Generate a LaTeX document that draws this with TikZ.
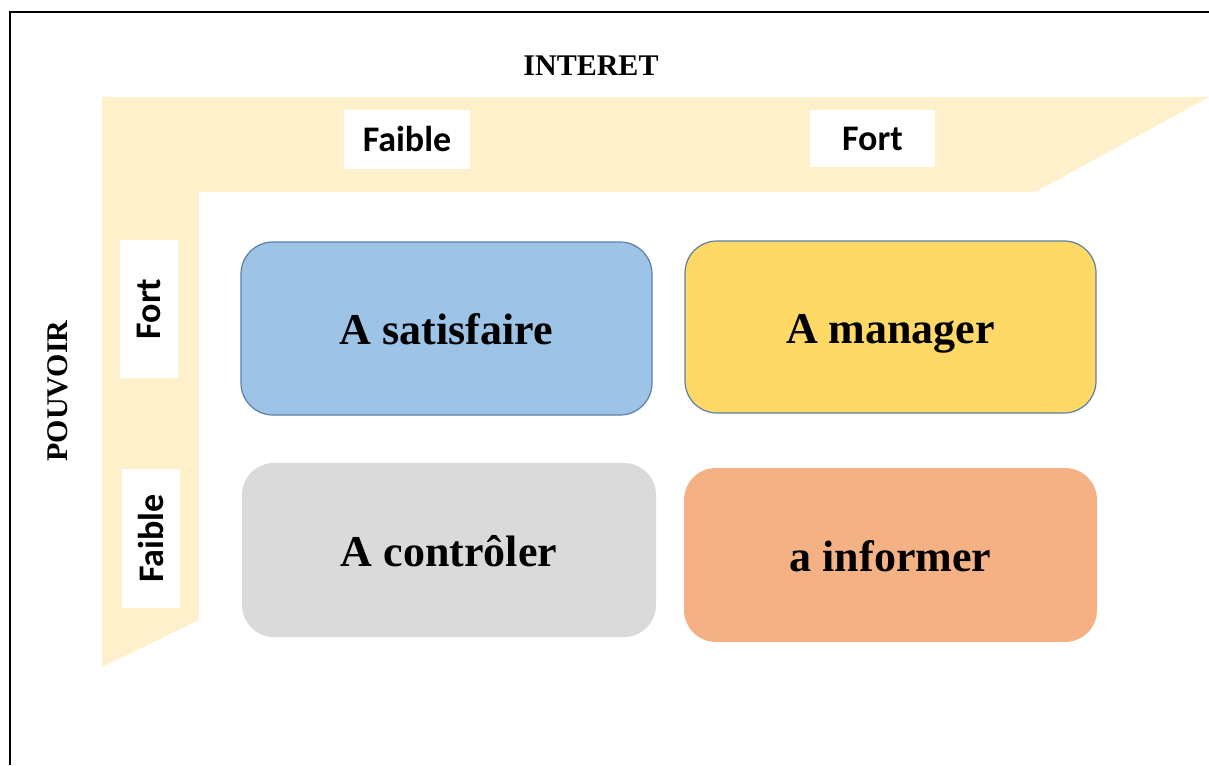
\documentclass[tikz,border=0pt]{standalone}
\usepackage{fontspec}
\setmainfont{Liberation Serif}
\newfontfamily\calib{Carlito}
\definecolor{bandyellow}{HTML}{FFF0CC}
\definecolor{sblue}{HTML}{9DC3E6}
\definecolor{myellow}{HTML}{FFD966}
\definecolor{cgray}{HTML}{DADADA}
\definecolor{iorange}{HTML}{F4B183}
\definecolor{edgeblue}{HTML}{5B7FA6}
\tikzset{
  quad/.style={rounded corners=32pt, inner sep=0pt, minimum width=411pt, minimum height=173pt,
    text height=40pt, text depth=8pt,
    font=\bfseries\fontsize{44}{48}\selectfont},
  lab/.style={fill=white, inner sep=0pt, font=\calib\bfseries\fontsize{36}{40}\selectfont},
  axis/.style={inner sep=0pt, font=\bfseries\fontsize{30}{34}\selectfont}
}
\begin{document}
\begin{tikzpicture}[x=1pt,y=-1pt]
\useasboundingbox (0,0) rectangle (1209,765);
% frame
\draw[line width=2pt] (10,765) -- (10,12) -- (1209,12);
% L band
\fill[bandyellow] (102,97) -- (1209,97) -- (1035,192) -- (199,192) -- (199,620) -- (102,667) -- cycle;
% axis titles
\node[axis] (interet) at (591,66) {INTERET};
\node[axis, rotate=90] (pouvoir) at (58,391) {POUVOIR};
% labels
\node[lab, minimum width=126pt, minimum height=58pt] (tfaible) at (407,139.5) {Faible};
\node[lab, minimum width=125pt, minimum height=57pt] (tfort) at (872.5,138.5) {Fort};
\node[lab, rotate=90, minimum width=138pt, minimum height=58pt] (lfort) at (149,309) {Fort};
\node[lab, rotate=90, minimum width=139pt, minimum height=58pt] (lfaible) at (151,538.5) {Faible};
% quadrants
\node[quad, fill=sblue, draw=edgeblue, line width=1.2pt] (satisfaire) at (446.5,328.5) {A satisfaire};
\node[quad, fill=myellow, draw=edgeblue, line width=1.2pt, minimum height=172pt] (manager) at (890.5,327) {A manager};
\node[quad, fill=cgray, minimum width=414pt, minimum height=174pt] (controler) at (449,550) {A contr\^oler};
\node[quad, fill=iorange, minimum width=413pt, minimum height=174pt] (informer) at (890.5,555) {a informer};
\end{tikzpicture}
\end{document}
